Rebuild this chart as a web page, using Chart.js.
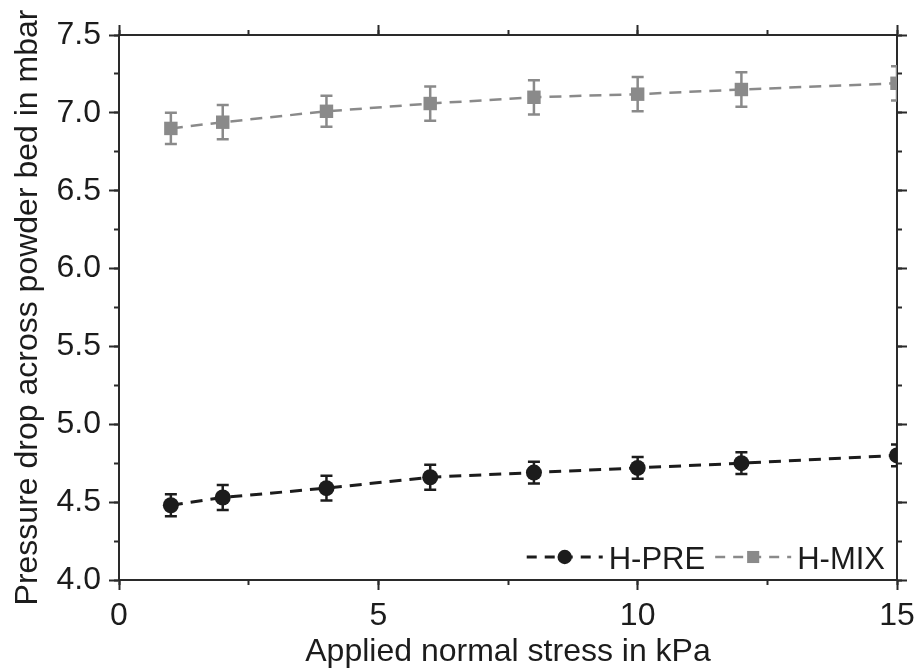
<!DOCTYPE html>
<html>
<head>
<meta charset="utf-8">
<script src="https://cdn.jsdelivr.net/npm/chart.js@4.4.0/dist/chart.umd.min.js"></script>
<style>
  html, body { margin: 0; padding: 0; background: #fff; }
</style>
</head>
<body>
<canvas id="chart" width="917" height="671"></canvas>
<script>
// applied normal stress in kPa
const stress = [1, 2, 4, 6, 8, 10, 12, 15]

// pressure drop in mbar
const hPre = [4.48, 4.53, 4.59, 4.66, 4.69, 4.72, 4.75, 4.80]
const hPreErr = [0.07, 0.08, 0.08, 0.08, 0.07, 0.07, 0.07, 0.07]
const hMix = [6.90, 6.94, 7.01, 7.06, 7.10, 7.12, 7.15, 7.19]
const hMixErr = [0.10, 0.11, 0.10, 0.11, 0.11, 0.11, 0.11, 0.11]

const seriesNames = ["H-PRE", "H-MIX"]
const xTitle = "Applied normal stress in kPa"
const yTitle = "Pressure drop across powder bed in mbar"

const FONT = "'Liberation Sans', Arial, Helvetica, sans-serif"
const AXIS = "#2a2a2a"
const DARK = "#1c1c1c"
const GREY = "#8a8a8a"

// error bars drawn from the same scales as the points
const errorBars = {
    id: "errorBars",
    beforeDatasetsDraw(chart) {
        const { ctx, chartArea, scales } = chart
        ctx.save()
        ctx.beginPath()
        ctx.rect(chartArea.left, chartArea.top, chartArea.width, chartArea.height)
        ctx.clip()
        chart.data.datasets.forEach(ds => {
            ctx.strokeStyle = ds.borderColor
            ctx.lineWidth = 2.5
            ds.data.forEach((pt, i) => {
                const px = scales.x.getPixelForValue(pt.x)
                const top = scales.y.getPixelForValue(pt.y + ds.errors[i])
                const bot = scales.y.getPixelForValue(pt.y - ds.errors[i])
                ctx.beginPath()
                ctx.moveTo(px, top); ctx.lineTo(px, bot)
                ctx.moveTo(px - 6, top); ctx.lineTo(px + 6, top)
                ctx.moveTo(px - 6, bot); ctx.lineTo(px + 6, bot)
                ctx.stroke()
            })
        })
        ctx.restore()
    }
}

// legend inside the bottom right corner: dashed line + marker + label
const insideLegend = {
    id: "insideLegend",
    afterDraw(chart) {
        const { ctx, chartArea } = chart
        const lineLen = 76, gapText = 6, gapItem = 10
        ctx.save()
        ctx.font = "31px " + FONT
        const items = chart.data.datasets.map(ds => ({ ds, w: ctx.measureText(ds.label).width }))
        const total = items.reduce((s, it) => s + lineLen + gapText + it.w, 0) + gapItem * (items.length - 1)
        let x = chartArea.right - 12 - total
        const yLine = chartArea.bottom - 23
        items.forEach(({ ds, w }) => {
            ctx.strokeStyle = ds.borderColor
            ctx.lineWidth = ds.borderWidth
            ctx.setLineDash([10, 8])
            ctx.beginPath()
            ctx.moveTo(x, yLine); ctx.lineTo(x + lineLen, yLine)
            ctx.stroke()
            ctx.setLineDash([])
            ctx.fillStyle = ds.borderColor
            Chart.helpers.drawPoint(ctx, { pointStyle: ds.pointStyle, radius: ds.pointRadius * 0.9, borderWidth: 0 }, x + lineLen / 2, yLine)
            ctx.fillStyle = DARK
            ctx.textBaseline = "middle"
            ctx.fillText(ds.label, x + lineLen + gapText, yLine + 3)
            x += lineLen + gapText + w + gapItem
        })
        ctx.restore()
    }
}

const noPad = s => { s.paddingLeft = 0; s.paddingRight = 0; s.paddingTop = 0; s.paddingBottom = 0 }

const tickAxis = (position, min, max, step, len, weight) => ({
    type: "linear",
    position, min, max, weight,
    ticks: { stepSize: step, display: false },
    grid: { drawOnChartArea: false, tickLength: len, tickWidth: 2, tickColor: AXIS },
    border: { display: position === "top" || position === "right", color: AXIS, width: 2 },
    afterFit: s => {
        if (position === "top" || position === "bottom") s.height = 0
        else s.width = 0
        noPad(s)
    }
})

new Chart(document.getElementById("chart"), {
    type: "line",
    data: {
        datasets: [
            {
                label: seriesNames[0],
                data: stress.map((x, i) => ({ x, y: hPre[i] })),
                errors: hPreErr,
                borderColor: DARK,
                backgroundColor: DARK,
                borderWidth: 3,
                borderDash: [12, 8],
                pointStyle: "circle",
                pointRadius: 8,
                pointBorderWidth: 0,
                clip: 0
            },
            {
                label: seriesNames[1],
                data: stress.map((x, i) => ({ x, y: hMix[i] })),
                errors: hMixErr,
                borderColor: GREY,
                backgroundColor: GREY,
                borderWidth: 2.5,
                borderDash: [12, 8],
                pointStyle: "rect",
                pointRadius: 9.5,
                pointBorderWidth: 0,
                clip: 0
            }
        ]
    },
    options: {
        responsive: false,
        animation: false,
        devicePixelRatio: 1,
        layout: { padding: { left: 0, right: 20, top: 35, bottom: 0 } },
        plugins: { legend: { display: false }, tooltip: { enabled: false } },
        scales: {
            x: {
                type: "linear",
                position: "bottom",
                min: 0, max: 15, weight: 1,
                ticks: { stepSize: 5, color: DARK, font: { family: FONT, size: 32 }, padding: 7, maxRotation: 0 },
                grid: { drawOnChartArea: false, tickLength: 10, tickWidth: 2, tickColor: AXIS },
                border: { color: AXIS, width: 2 },
                title: { display: true, text: xTitle, color: DARK, font: { family: FONT, size: 32 }, padding: 0 },
                afterFit: s => { s.height = 91; noPad(s) }
            },
            xMinor: tickAxis("bottom", 0, 15, 2.5, 5, 0),
            xTop: tickAxis("top", 0, 15, 5, 10, 0),
            xTopMinor: tickAxis("top", 0, 15, 2.5, 5, 1),
            y: {
                type: "linear",
                position: "left",
                min: 4, max: 7.5, weight: 1,
                ticks: { stepSize: 0.5, color: DARK, font: { family: FONT, size: 32 }, padding: 8, callback: v => v.toFixed(1) },
                grid: { drawOnChartArea: false, tickLength: 10, tickWidth: 2, tickColor: AXIS },
                border: { color: AXIS, width: 2 },
                title: { display: true, text: yTitle, color: DARK, font: { family: FONT, size: 32 }, padding: { top: 9, bottom: 0 } },
                afterFit: s => { s.width = 119; noPad(s) }
            },
            yMinor: tickAxis("left", 4, 7.5, 0.25, 5, 0),
            yRight: tickAxis("right", 4, 7.5, 0.5, 10, 0),
            yRightMinor: tickAxis("right", 4, 7.5, 0.25, 5, 1)
        }
    },
    plugins: [errorBars, insideLegend]
})
</script>
</body>
</html>
